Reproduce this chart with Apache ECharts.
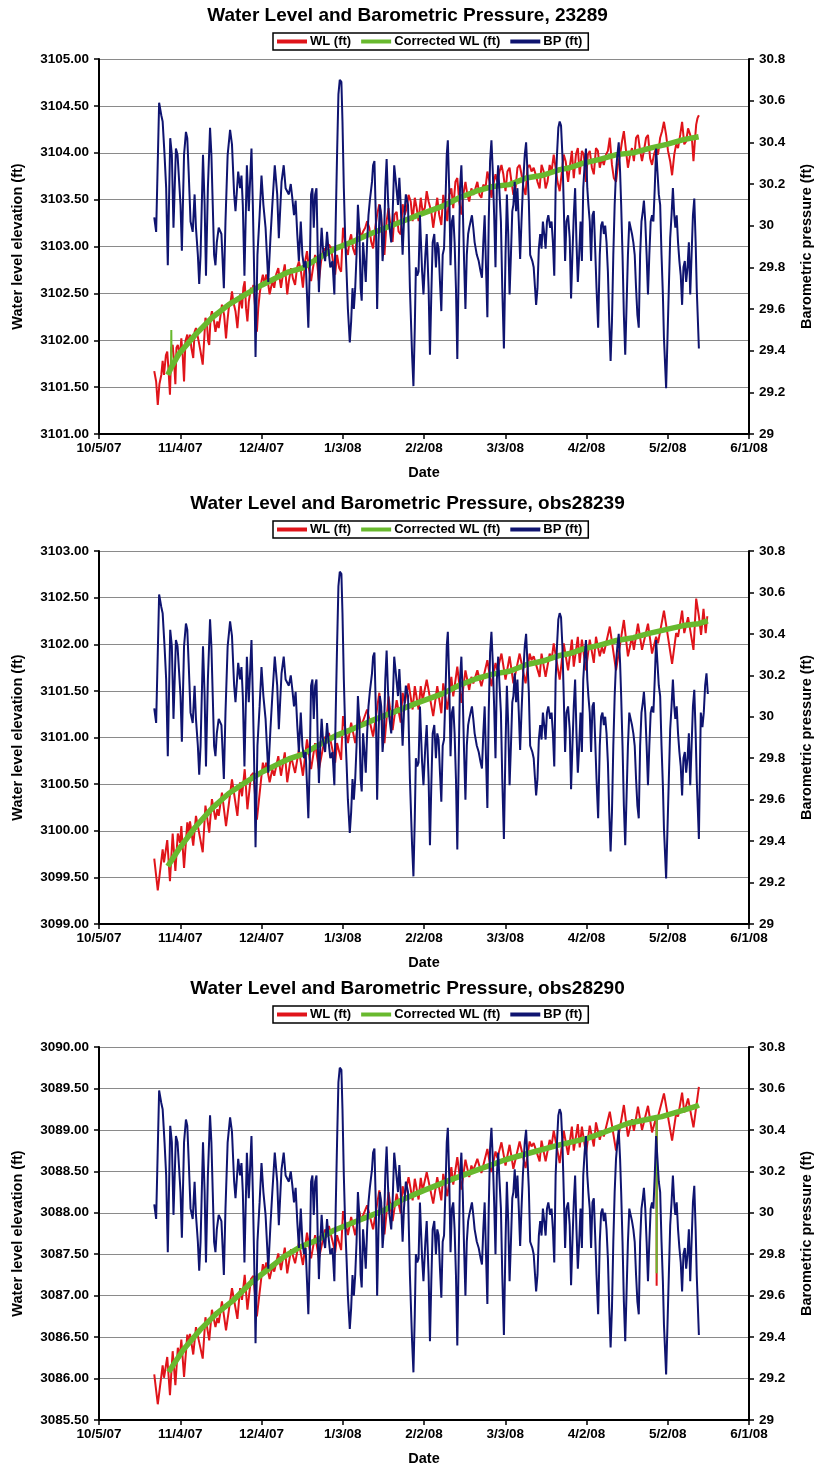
<!DOCTYPE html>
<html><head><meta charset="utf-8">
<script src="https://cdn.jsdelivr.net/npm/echarts/dist/echarts.min.js"></script>
<style>html,body{margin:0;padding:0;background:#fff}#c{width:815px;height:1471px}</style>
</head><body><div id="c"></div>
<script>
// x axis: days since 10/5/07
const dateTicks = ['10/5/07','11/4/07','12/4/07','1/3/08','2/2/08','3/3/08','4/2/08','5/2/08','6/1/08'];
const titles = ['Water Level and Barometric Pressure, 23289','Water Level and Barometric Pressure, obs28239','Water Level and Barometric Pressure, obs28290'];
const seriesNames = ['WL (ft)','Corrected WL (ft)','BP (ft)'];

const bp = [[20.4,30.04],[21.1,29.97],[22.2,30.59],[23.0,30.53],[23.5,30.50],[24.2,30.34],[24.8,30.18],[25.4,29.81],[26.3,30.42],[26.9,30.34],[27.5,29.99],[28.4,30.37],[29.0,30.34],[29.6,30.21],[30.1,30.10],[30.6,29.88],[31.4,30.34],[32.1,30.45],[32.6,30.42],[33.1,30.26],[33.8,30.02],[34.6,29.97],[35.3,30.15],[35.8,29.99],[36.5,29.86],[37.0,29.72],[37.5,29.86],[38.4,30.34],[39.0,30.10],[39.5,29.76],[40.2,30.18],[41.0,30.47],[41.5,30.34],[42.0,30.10],[42.5,29.86],[43.0,29.81],[43.5,29.92],[44.2,29.99],[45.2,29.96],[46.1,29.70],[46.7,30.02],[47.5,30.34],[48.4,30.46],[49.1,30.39],[49.9,30.15],[50.4,30.07],[51.4,30.26],[52.1,30.18],[52.6,30.24],[53.1,30.10],[53.7,29.76],[54.6,30.29],[55.3,30.07],[56.3,30.37],[56.8,30.10],[57.4,29.70],[57.8,29.37],[58.5,29.86],[59.3,30.05],[60.0,30.24],[60.7,30.10],[61.5,29.99],[62.5,29.73],[63.3,29.94],[64.0,30.10],[64.9,30.29],[65.8,30.15],[66.4,29.94],[67.4,30.21],[68.2,30.29],[68.9,30.18],
[69.5,30.18],[70.1,30.15],[70.8,30.20],[71.4,30.13],[72.0,30.05],[72.6,30.12],[73.2,29.96],[73.8,29.83],[74.5,30.02],[75.1,29.86],[75.7,29.80],[76.3,29.83],[76.8,29.67],[77.3,29.51],[77.8,29.78],[78.3,30.15],[78.8,30.18],[79.3,29.99],[79.8,30.15],[80.3,30.18],[80.8,29.86],[81.2,29.68],[81.7,29.86],[82.2,29.99],[82.7,29.89],[83.5,29.83],[84.2,29.97],[84.7,29.89],[85.4,29.80],[86.2,29.83],[86.9,29.67],[87.4,30.02],[87.9,30.34],[88.4,30.63],[88.9,30.70],[89.5,30.69],[89.9,30.50],[90.4,30.18],[90.9,29.94],[91.4,29.78],[91.9,29.60],[92.6,29.44],[93.1,29.54],[93.6,29.70],[94.1,29.60],[94.6,29.70],[95.1,29.86],[95.6,30.10],[96.1,29.99],[96.6,29.70],[97.0,29.64],[97.5,29.92],[98.0,29.83],[98.5,29.73],[99.0,29.92],[99.5,30.05],[100.0,30.12],[100.8,30.21],[101.2,30.29],[101.7,30.31],[102.2,30.05],[102.7,29.60],[103.2,29.92],[103.7,30.10],[104.2,30.05],[104.7,29.83],[105.2,29.92],[105.7,30.18],[106.2,30.32],[106.7,30.13],[107.2,30.00],[107.9,29.92],[108.4,30.05],[109.0,30.29],[109.6,30.21],[110.4,30.10],[110.9,30.23],[111.4,30.10],[112.1,29.86],[112.6,30.02],[113.3,30.15],[114.1,30.10],[114.8,29.70],[115.6,29.38],[116.1,29.23],[116.6,29.51],[117.0,29.80],[117.5,29.76],[118.0,29.78],[118.5,30.05],[119.3,29.78],[119.8,29.67],[120.5,29.86],[121.0,29.96],[121.7,29.70],[122.2,29.38],
[122.7,29.67],[123.2,29.92],[123.8,29.96],[124.4,29.80],[124.9,29.92],[125.4,29.89],[125.9,29.73],[126.4,29.59],[126.9,29.86],[127.4,29.89],[127.9,30.10],[128.4,30.34],[128.8,30.41],[129.3,30.18],[129.8,29.81],[130.3,30.02],[130.8,30.05],[131.3,29.92],[131.8,29.70],[132.3,29.36],[132.8,29.78],[133.3,30.18],[133.8,30.29],[134.3,30.10],[134.8,29.83],[135.3,29.60],[135.8,29.86],[136.3,29.96],[136.7,29.99],[137.2,30.02],[137.7,30.05],[138.2,29.99],[138.7,29.92],[139.5,29.86],[140.2,29.83],[140.9,29.78],[141.4,29.75],[141.9,29.92],[142.4,30.05],[142.9,29.80],[143.4,29.56],[143.9,30.02],[144.4,30.31],[144.9,30.41],[145.4,30.26],[145.9,30.05],[146.4,29.80],[146.9,30.18],[147.4,30.29],[147.9,30.15],[148.4,30.02],[148.9,29.70],[149.5,29.41],[150.1,29.86],[150.6,30.15],[151.1,29.96],[151.6,29.67],[152.1,29.86],[152.6,30.07],[153.0,30.10],[153.5,30.21],[154.0,30.07],[154.5,30.18],[155.0,30.02],[155.5,29.84],[156.0,30.02],[156.5,30.18],[157.2,30.34],[157.7,30.40],[158.2,30.26],[158.7,30.12],[159.2,29.86],[160.0,29.83],[160.5,29.80],[161.0,29.70],[161.4,29.62],[161.9,29.70],[162.4,29.89],[162.9,29.96],[163.4,29.89],[163.9,30.02],[164.4,29.96],[164.9,29.89],[165.4,30.02],[165.9,30.05],[166.6,29.99],[167.1,30.02],[167.6,29.92],[168.1,29.76],[168.6,30.18],[169.1,30.34],[169.6,30.47],[170.1,30.50],[170.6,30.48],[171.1,30.34],[171.6,30.10],[172.1,29.83],[172.6,30.02],
[173.2,30.05],[173.8,29.94],[174.3,29.65],[174.8,29.86],[175.3,30.05],[175.8,30.18],[176.3,29.92],[176.8,29.73],[177.3,29.86],[177.8,30.02],[178.3,29.83],[178.8,30.18],[179.3,30.29],[179.8,30.37],[180.3,30.18],[180.7,30.10],[181.2,30.02],[181.7,29.83],[182.2,30.05],[182.7,30.07],[183.2,29.89],[183.7,29.70],[184.3,29.51],[184.9,29.86],[185.4,30.00],[185.9,30.02],[186.4,29.96],[186.9,30.00],[187.4,29.92],[187.9,29.78],[188.4,29.54],[188.9,29.35],[189.4,29.54],[189.9,29.86],[190.4,30.10],[190.9,30.26],[191.4,30.34],[191.9,30.40],[192.4,30.26],[192.8,30.10],[193.3,29.86],[193.8,29.57],[194.3,29.38],[194.8,29.62],[195.3,29.86],[195.8,30.02],[196.3,29.99],[196.8,29.96],[197.3,29.92],[197.8,29.86],[198.3,29.70],[198.8,29.57],[199.3,29.51],[199.8,29.86],[200.3,30.02],[200.8,30.07],[201.2,30.12],[201.7,30.02],[202.2,29.86],[202.7,29.67],[203.2,29.86],[203.7,30.02],[204.2,30.05],[204.7,30.02],[205.2,30.18],[205.7,30.37],[206.2,30.26],[206.7,30.15],[207.2,30.10],[207.7,29.86],[208.2,29.67],[208.6,29.46],[209.4,29.22],[209.9,29.46],[210.4,29.70],[210.9,29.94],[211.4,30.05],[211.9,30.18],[212.4,30.05],[212.8,29.99],[213.3,30.05],[213.8,29.92],[214.3,29.83],[214.8,29.76],[215.3,29.62],[215.8,29.80],[216.3,29.83],[216.8,29.73],[217.3,29.80],[217.8,29.92],[218.3,29.67],[218.8,29.86],[219.3,30.05],[219.8,30.13],[220.3,29.92],[220.7,29.70],[221.5,29.41]];
const bpTail2 = [[222.2,30.02],[222.8,29.95],[223.3,30.02],[223.8,30.15],[224.3,30.21],[224.8,30.11]];

const wl1 = [[20.4,3101.67],[21.1,3101.56],[21.7,3101.31],[22.3,3101.53],[23.0,3101.63],[23.5,3101.78],[24.0,3101.63],[24.7,3101.84],[25.2,3101.88],[25.7,3101.67],[26.2,3101.42],[26.7,3101.92],[27.2,3101.95],[27.7,3101.78],[28.2,3101.53],[28.6,3101.92],[29.1,3101.95],[29.9,3101.84],[30.4,3102.02],[30.9,3101.84],[31.4,3101.56],[31.9,3101.99],[32.6,3102.06],[33.1,3101.95],[33.6,3102.06],[34.1,3101.92],[34.8,3101.81],[35.3,3102.09],[35.8,3102.13],[36.3,3102.13],[36.8,3101.99],[37.5,3101.88],[38.3,3101.74],[38.8,3101.99],[39.3,3102.24],[39.8,3102.20],[40.3,3101.99],[40.7,3101.95],[41.2,3102.24],[41.7,3102.31],[42.5,3102.20],[43.0,3102.09],[43.7,3102.20],[44.2,3102.13],[44.9,3102.27],[45.4,3102.38],[46.2,3102.27],[46.9,3102.02],[47.4,3102.20],[47.9,3102.34],[48.6,3102.41],[49.1,3102.52],[49.6,3102.41],[50.4,3102.31],[51.1,3102.13],[51.6,3102.31],[52.1,3102.49],[52.8,3102.34],[53.3,3102.56],[53.8,3102.63],[54.3,3102.34],[54.8,3102.20],[55.3,3102.41],[56.1,3102.56],[56.5,3102.52],[57.0,3102.59],[57.5,3102.41],[58.3,3102.09],[58.8,3102.34],[59.3,3102.49],[60.0,3102.63],[60.5,3102.70],[61.2,3102.59],[61.7,3102.70],[62.2,3102.66],[63.0,3102.49],[63.5,3102.56],[64.0,3102.63],[64.7,3102.56],[65.4,3102.70],[66.2,3102.77],[66.7,3102.66],[67.2,3102.56],[67.9,3102.70],[68.6,3102.81],
[69.5,3102.49],[70.1,3102.63],[70.9,3102.77],[71.6,3102.66],[72.4,3102.59],[73.1,3102.77],[73.8,3102.84],[74.6,3102.73],[75.3,3102.56],[76.1,3102.84],[76.8,3102.95],[77.5,3102.77],[78.3,3102.63],[79.0,3102.77],[79.8,3102.91],[80.5,3102.84],[81.2,3102.63],[82.0,3102.84],[82.7,3102.95],[83.5,3102.98],[84.2,3102.91],[84.9,3103.02],[85.7,3102.98],[86.4,3102.84],[87.2,3102.70],[87.9,3102.91],[88.7,3102.77],[89.4,3102.73],[90.1,3103.20],[90.6,3103.13],[91.1,3102.98],[91.9,3102.91],[92.4,3103.05],[93.1,3103.13],[93.8,3102.98],[94.6,3102.91],[95.3,3103.13],[96.1,3103.20],[96.8,3103.09],[97.5,3103.16],[98.3,3103.20],[99.0,3103.27],[99.8,3103.20],[100.5,3103.05],[101.2,3102.98],[102.0,3103.20],[102.7,3103.34],[103.5,3103.45],[104.0,3103.37],[104.7,3103.13],[105.4,3102.91],[106.2,3103.27],[106.9,3103.41],[107.7,3103.20],[108.4,3103.05],[109.1,3103.34],[109.9,3103.37],[110.6,3103.16],[111.4,3103.13],[112.1,3103.45],[112.9,3103.34],[113.6,3103.41],[114.3,3103.55],[115.1,3103.48],[115.8,3103.27],[116.6,3103.52],[117.3,3103.41],[118.0,3103.27],[118.8,3103.52],[119.5,3103.37],[120.3,3103.41],[121.0,3103.59],[121.7,3103.48],
[122.7,3103.37],[123.4,3103.20],[124.2,3103.37],[124.9,3103.52],[125.6,3103.34],[126.4,3103.23],[127.1,3103.55],[127.9,3103.41],[128.6,3103.27],[129.3,3103.55],[130.1,3103.62],[130.8,3103.41],[131.6,3103.69],[132.3,3103.73],[133.0,3103.48],[133.8,3103.34],[134.5,3103.55],[135.3,3103.69],[136.0,3103.55],[136.7,3103.48],[137.5,3103.62],[138.2,3103.55],[139.0,3103.62],[139.7,3103.69],[140.5,3103.55],[141.2,3103.52],[141.9,3103.66],[142.7,3103.62],[143.4,3103.80],[144.2,3103.69],[144.9,3103.52],[145.6,3103.66],[146.4,3103.77],[147.1,3103.69],[147.9,3103.80],[148.6,3103.87],[149.3,3103.77],[150.1,3103.59],[150.8,3103.80],[151.6,3103.84],[152.3,3103.69],[153.0,3103.55],[153.8,3103.62],[154.5,3103.84],[155.3,3103.87],[156.0,3103.77],[156.8,3103.62],[157.5,3103.55],[158.2,3103.84],[159.0,3103.87],[159.7,3103.80],[160.5,3103.84],[161.2,3103.77],[161.9,3103.69],[162.7,3103.62],[163.4,3103.87],[164.2,3103.80],[164.9,3103.62],[165.6,3103.69],[166.4,3103.87],[167.1,3103.80],[167.9,3103.98],[168.6,3103.84],[169.3,3103.69],[170.1,3103.59],[170.8,3103.77],[171.6,3103.98],[172.3,3103.91],
[173.2,3103.69],[173.8,3103.84],[174.6,3104.02],[175.3,3103.73],[176.1,3103.98],[176.8,3104.05],[177.5,3103.77],[178.3,3104.02],[179.0,3103.98],[179.8,3103.69],[180.5,3103.98],[181.2,3104.02],[182.0,3103.84],[182.7,3103.77],[183.5,3104.05],[184.2,3104.02],[184.9,3103.84],[185.7,3103.94],[186.4,3103.87],[187.2,3103.98],[187.9,3104.02],[188.6,3104.16],[189.4,3103.87],[190.1,3103.73],[190.9,3103.69],[191.6,3103.87],[192.4,3103.98],[193.1,3104.12],[193.8,3104.23],[194.6,3104.02],[195.3,3103.84],[196.1,3103.98],[196.8,3104.05],[197.5,3103.91],[198.3,3104.16],[199.0,3104.19],[199.8,3104.02],[200.5,3103.91],[201.2,3104.02],[202.0,3104.16],[202.7,3104.19],[203.5,3103.94],[204.2,3103.87],[204.9,3103.98],[205.7,3104.05],[206.4,3103.98],[207.2,3104.16],[207.9,3104.23],[208.6,3104.33],[209.4,3104.19],[210.1,3104.02],[210.9,3103.91],[211.6,3103.76],[212.4,3103.98],[213.1,3104.09],[213.8,3104.05],[214.6,3104.19],[215.3,3104.33],[216.1,3104.09],[216.8,3104.12],[217.5,3104.26],[218.3,3104.19],[219.0,3104.12],[219.5,3103.91],[220.0,3104.12],[220.5,3104.30],[221.0,3104.37],[221.5,3104.40]];
const cwl1 = [[25.4,3101.63],[26.7,3101.71],[29.4,3101.85],[35.6,3102.06],[41.7,3102.24],[47.9,3102.38],[54.1,3102.49],[60.2,3102.59],[66.4,3102.68],[70.1,3102.73],[75.1,3102.77],[81.2,3102.88],[87.4,3102.98],[93.6,3103.05],[99.8,3103.13],[105.9,3103.20],[112.1,3103.27],[118.3,3103.34],[126.9,3103.43],[133.0,3103.52],[139.2,3103.59],[145.4,3103.64],[151.6,3103.66],[157.7,3103.73],[163.9,3103.76],[170.1,3103.82],[173.8,3103.84],[178.8,3103.89],[184.9,3103.93],[191.1,3103.98],[197.3,3104.00],[203.5,3104.05],[209.6,3104.09],[215.8,3104.14],[221.4,3104.17]];
const cwlSpike1 = [[26.6,3101.71],[26.7,3102.11],[26.8,3101.71]];

const wl2 = [[20.4,3099.70],[21.7,3099.36],[23.5,3099.80],[24.0,3099.66],[25.2,3099.90],[26.2,3099.46],[27.2,3099.97],[28.2,3099.57],[29.1,3099.97],[29.9,3099.87],[30.4,3100.05],[31.4,3099.60],[32.6,3100.09],[33.1,3099.98],[33.6,3100.10],[34.8,3099.84],[35.8,3100.16],[38.3,3099.77],[39.3,3100.27],[40.7,3099.98],[41.7,3100.34],[43.0,3100.12],[43.7,3100.23],[44.2,3100.16],[45.4,3100.41],[46.9,3100.05],[49.1,3100.55],[51.1,3100.16],[52.1,3100.52],[52.8,3100.37],[53.8,3100.66],[54.8,3100.23],[56.1,3100.59],[57.0,3100.62],[58.3,3100.12],[60.5,3100.73],[61.2,3100.62],[61.7,3100.73],[63.0,3100.52],[64.0,3100.66],[64.7,3100.59],[66.2,3100.80],[67.2,3100.59],[68.6,3100.84],[69.5,3100.52],[70.9,3100.80],[72.4,3100.62],[73.8,3100.87],[75.3,3100.59],[76.8,3100.98],[78.3,3100.66],[79.8,3100.94],[81.2,3100.66],[83.5,3101.01],[84.2,3100.94],[84.9,3101.05],[87.2,3100.73],[87.9,3100.94],[89.4,3100.76],[90.1,3101.23],[91.9,3100.94],[93.1,3101.16],[94.6,3100.94],[96.1,3101.23],[96.8,3101.12],[99.0,3101.30],[101.2,3101.01],[103.5,3101.48],[105.4,3100.94],[106.9,3101.44],[108.4,3101.08],[109.9,3101.40],[111.4,3101.16],[112.1,3101.48],[112.9,3101.37],[114.3,3101.58],[115.8,3101.30],[116.6,3101.55],[118.0,3101.30],[118.8,3101.55],[119.5,3101.40],[121.0,3101.62],[123.4,3101.23],[124.9,3101.55],[126.4,3101.26],[127.1,3101.58],[128.6,3101.30],[130.1,3101.65],[130.8,3101.44],[132.3,3101.76],[133.8,3101.37],[135.3,3101.72],[136.7,3101.51],[137.5,3101.65],[138.2,3101.58],[139.7,3101.72],[141.2,3101.55],[143.4,3101.83],[144.9,3101.55],[146.4,3101.80],[147.1,3101.72],[148.6,3101.90],[150.1,3101.62],[151.6,3101.87],[153.0,3101.58],[155.3,3101.90],[157.5,3101.58],[159.0,3101.90],[159.7,3101.83],[160.5,3101.87],[162.7,3101.65],[163.4,3101.90],[164.9,3101.65],[166.4,3101.90],[167.1,3101.83],[167.9,3102.01],[170.1,3101.62],[171.6,3102.01],[173.2,3101.72],[174.6,3102.05],[175.3,3101.76],[176.8,3102.08],[177.5,3101.80],[178.3,3102.05],[179.8,3101.72],[181.2,3102.05],[182.7,3101.80],[183.5,3102.08],[184.9,3101.87],[185.7,3101.97],[186.4,3101.90],[188.6,3102.19],[190.9,3101.72],[193.8,3102.26],[195.3,3101.87],[196.8,3102.08],[197.5,3101.94],[199.0,3102.22],[200.5,3101.94],[202.7,3102.22],[204.2,3101.90],[205.7,3102.08],[206.4,3102.01],[208.6,3102.36],[211.6,3101.79],[213.1,3102.12],[213.8,3102.08],[215.3,3102.36],[216.1,3102.12],[217.5,3102.29],[219.5,3101.94],[220.5,3102.49],[221.5,3102.30],[222.3,3102.10],[223.2,3102.38],[224.0,3102.12],[224.6,3102.30]];
const cwl2 = [[25.4,3099.62],[29.4,3099.80],[35.6,3100.04],[41.7,3100.24],[47.9,3100.40],[54.1,3100.52],[60.2,3100.63],[66.4,3100.72],[70.1,3100.77],[75.1,3100.82],[81.2,3100.92],[87.4,3101.02],[93.6,3101.09],[99.8,3101.17],[105.9,3101.24],[112.1,3101.31],[118.3,3101.38],[126.9,3101.47],[133.0,3101.56],[139.2,3101.63],[145.4,3101.68],[151.6,3101.71],[157.7,3101.78],[163.9,3101.82],[170.1,3101.88],[173.8,3101.90],[178.8,3101.95],[184.9,3101.99],[191.1,3102.04],[197.3,3102.07],[203.5,3102.12],[209.6,3102.16],[215.8,3102.20],[221.4,3102.22],[224.8,3102.25]];

const wl3 = [[20.4,3086.05],[21.7,3085.69],[23.5,3086.16],[24.0,3086.01],[25.2,3086.26],[26.2,3085.80],[27.2,3086.33],[28.2,3085.92],[29.1,3086.37],[29.9,3086.28],[30.4,3086.47],[31.4,3086.02],[32.6,3086.53],[33.1,3086.42],[33.6,3086.54],[34.8,3086.29],[35.8,3086.62],[38.3,3086.24],[39.3,3086.74],[40.7,3086.46],[41.7,3086.83],[43.0,3086.62],[43.7,3086.73],[44.2,3086.67],[45.4,3086.93],[46.9,3086.58],[49.1,3087.09],[51.1,3086.72],[52.1,3087.09],[52.8,3086.95],[53.8,3087.25],[54.8,3086.83],[56.1,3087.20],[57.0,3087.24],[58.3,3086.75],[60.5,3087.38],[61.2,3087.28],[61.7,3087.40],[63.0,3087.20],[64.0,3087.35],[64.7,3087.29],[66.2,3087.51],[67.2,3087.31],[68.6,3087.58],[69.5,3087.27],[70.9,3087.56],[72.4,3087.39],[73.8,3087.64],[75.3,3087.37],[76.8,3087.76],[78.3,3087.45],[79.8,3087.73],[81.2,3087.45],[83.5,3087.80],[84.2,3087.73],[84.9,3087.84],[87.2,3087.52],[87.9,3087.73],[89.4,3087.55],[90.1,3088.02],[91.9,3087.73],[93.1,3087.95],[94.6,3087.73],[96.1,3088.02],[96.8,3087.91],[99.0,3088.09],[101.2,3087.80],[103.5,3088.27],[105.4,3087.74],[106.9,3088.25],[108.4,3087.90],[109.9,3088.23],[111.4,3087.99],[112.1,3088.32],[112.9,3088.21],[114.3,3088.43],[115.8,3088.15],[116.6,3088.41],[118.0,3088.16],[118.8,3088.42],[119.5,3088.27],[121.0,3088.49],[123.4,3088.11],[124.9,3088.43],[126.4,3088.15],[127.1,3088.47],[128.6,3088.20],[130.1,3088.55],[130.8,3088.34],[132.3,3088.67],[133.8,3088.28],[135.3,3088.64],[136.7,3088.43],[137.5,3088.57],[138.2,3088.51],[139.7,3088.65],[141.2,3088.48],[143.4,3088.77],[144.9,3088.49],[146.4,3088.74],[147.1,3088.66],[148.6,3088.85],[150.1,3088.57],[151.6,3088.82],[153.0,3088.53],[155.3,3088.86],[157.5,3088.54],[159.0,3088.86],[159.7,3088.80],[160.5,3088.84],[162.7,3088.62],[163.4,3088.87],[164.9,3088.62],[166.4,3088.88],[167.1,3088.81],[167.9,3088.99],[170.1,3088.60],[171.6,3088.99],[173.2,3088.70],[174.6,3089.04],[175.3,3088.75],[176.8,3089.07],[177.5,3088.79],[178.3,3089.04],[179.8,3088.71],[181.2,3089.05],[182.7,3088.80],[183.5,3089.09],[184.9,3088.88],[185.7,3088.99],[186.4,3088.92],[188.6,3089.22],[190.9,3088.75],[193.8,3089.30],[195.3,3088.92],[196.8,3089.13],[197.5,3088.99],[199.0,3089.28],[200.5,3089.00],[202.7,3089.29],[204.2,3088.97],[205.7,3089.15],[205.85,3089.12],[205.9,3087.12],[205.95,3089.10],[206.4,3089.08],[208.6,3089.44],[211.6,3088.87],[213.1,3089.20],[213.8,3089.16],[215.3,3089.45],[216.1,3089.21],[217.5,3089.38],[219.5,3089.03],[221.5,3089.52]];
const cwl3 = [[25.7,3086.08],[31.2,3086.35],[37.4,3086.59],[43.6,3086.79],[49.8,3086.95],[55.9,3087.15],[62.1,3087.31],[68.3,3087.47],[74.4,3087.59],[80.6,3087.67],[86.8,3087.79],[93.0,3087.87],[99.1,3087.95],[105.3,3088.03],[111.5,3088.15],[120.0,3088.27],[130.0,3088.40],[140.0,3088.52],[150.0,3088.64],[160.0,3088.73],[170.0,3088.82],[180.6,3088.90],[188.0,3088.99],[195.4,3089.08],[200.0,3089.11],[205.9,3089.15],[207.8,3089.16],[214.0,3089.22],[220.1,3089.28],[221.5,3089.30]];
const cwlSpike3 = [[205.87,3089.15],[205.9,3087.27],[205.93,3089.15]];

const FONT = '"Liberation Sans", Arial, Helvetica, sans-serif';
const COLORS = ['#e0141a', '#68b92e', '#0f1470'];

const panels = [
  {top: 59, height: 375, wlMin: 3101, wlMax: 3105, wl: wl1, cwl: cwl1, spike: cwlSpike1, bp: bp, titleY: 17, legendTop: 33},
  {top: 551, height: 373, wlMin: 3099, wlMax: 3103, wl: wl2, cwl: cwl2, spike: null, bp: bp.concat(bpTail2), titleY: 505, legendTop: 521},
  {top: 1047, height: 373, wlMin: 3085.5, wlMax: 3090, wl: wl3, cwl: cwl3, spike: cwlSpike3, bp: bp, titleY: 990, legendTop: 1006}
];

const grid = [], xAxis = [], yAxis = [], series = [], legend = [], graphic = [];
const axisLine = {show: true, lineStyle: {color: '#000', width: 2}};
const tick = {show: true, length: 5, lineStyle: {color: '#000', width: 1.5}};
const lbl = {color: '#000', fontFamily: FONT, fontWeight: 'bold', fontSize: 13.5};
const nameStyle = {color: '#000', fontFamily: FONT, fontWeight: 'bold', fontSize: 14.5};

panels.forEach((p, i) => {
  grid.push({left: 99, top: p.top, width: 650, height: p.height, containLabel: false, outerBoundsMode: 'none', show: false});
  xAxis.push({
    type: 'value', gridIndex: i, min: 0, max: 240, interval: 30,
    axisLine: axisLine, axisTick: tick, splitLine: {show: false},
    axisLabel: Object.assign({margin: 7, formatter: v => dateTicks[Math.round(v / 30)]}, lbl),
    name: 'Date', nameLocation: 'middle', nameGap: 31, nameTextStyle: nameStyle
  });
  yAxis.push({
    type: 'value', gridIndex: i, position: 'left', min: p.wlMin, max: p.wlMax, interval: 0.5,
    axisLine: axisLine, axisTick: tick,
    splitLine: {show: true, lineStyle: {color: '#8a8a8a', width: 1}},
    axisLabel: Object.assign({margin: 10, formatter: v => v.toFixed(2)}, lbl),
    name: 'Water level elevation (ft)', nameLocation: 'middle', nameGap: 74, nameRotate: 90, nameTextStyle: nameStyle
  });
  yAxis.push({
    type: 'value', gridIndex: i, position: 'right', min: 29, max: 30.8, interval: 0.2,
    axisLine: axisLine, axisTick: tick, splitLine: {show: false},
    axisLabel: Object.assign({margin: 10, formatter: v => String(+v.toFixed(1))}, lbl),
    name: 'Barometric pressure (ft)', nameLocation: 'middle', nameGap: 50, nameRotate: 90, nameTextStyle: nameStyle
  });
  const common = {type: 'line', showSymbol: false, symbol: 'none', xAxisIndex: i, animation: false, silent: true};
  series.push(Object.assign({name: seriesNames[0], data: p.wl, yAxisIndex: 2 * i, lineStyle: {color: COLORS[0], width: 2}, itemStyle: {color: COLORS[0]}, z: 2}, common));
  series.push(Object.assign({name: seriesNames[1], data: p.cwl, yAxisIndex: 2 * i, lineStyle: {color: COLORS[1], width: 5.5}, itemStyle: {color: COLORS[1]}, z: 3}, common));
  if (p.spike) {
    series.push(Object.assign({name: seriesNames[1], data: p.spike, yAxisIndex: 2 * i, lineStyle: {color: COLORS[1], width: 2}, itemStyle: {color: COLORS[1]}, z: 3}, common));
  }
  series.push(Object.assign({name: seriesNames[2], data: p.bp, yAxisIndex: 2 * i + 1, lineStyle: {color: COLORS[2], width: 2}, itemStyle: {color: COLORS[2]}, z: 4}, common));
  legend.push({
    data: seriesNames, left: 273, top: p.legendTop, orient: 'horizontal',
    icon: 'rect', itemWidth: 30, itemHeight: 4, itemGap: 10,
    borderColor: '#000', borderWidth: 1.5, padding: [2, 6, 2, 4], backgroundColor: '#fff',
    selectedMode: false, textStyle: {color: '#000', fontFamily: FONT, fontWeight: 'bold', fontSize: 13, padding: [0, 0, 0, -2]}
  });
  graphic.push({
    type: 'text', left: 'center', top: p.titleY - 11, z: 10,
    style: {text: titles[i], fill: '#000', font: 'bold 19px ' + FONT}
  });
});

const chart = echarts.init(document.getElementById('c'), null, {renderer: 'canvas'});
chart.setOption({
  backgroundColor: '#ffffff', animation: false,
  grid, xAxis, yAxis, series, legend, graphic
});
</script>
</body></html>
